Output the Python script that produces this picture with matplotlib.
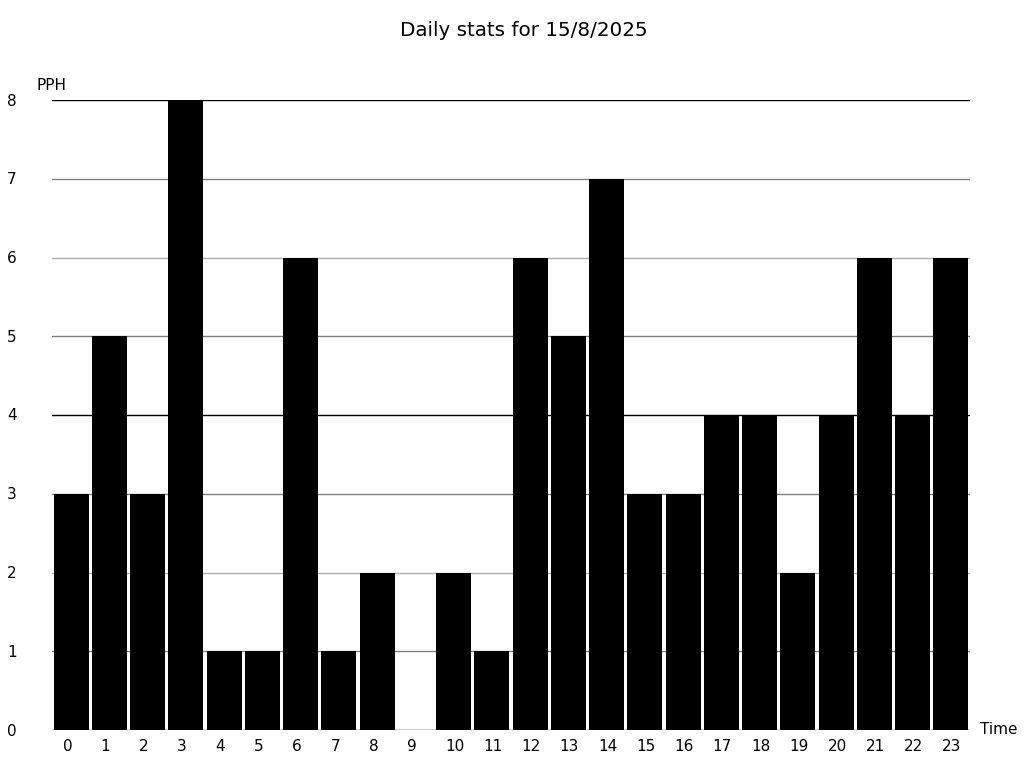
import matplotlib
matplotlib.use("Agg")
import matplotlib.pyplot as plt

hours = list(range(24))
hour_labels = [str(h) for h in hours]
pph = [3, 5, 3, 8, 1, 1, 6, 1, 2, 0, 2, 1, 6, 5, 7, 3, 3, 4, 4, 2, 4, 6, 4, 6]
y_ticks = [0, 1, 2, 3, 4, 5, 6, 7, 8]
grid_colors = ["#000000", "#808080", "#b0b0b0", "#808080", "#000000",
               "#808080", "#b0b0b0", "#808080", "#000000"]

W, H = 1024, 768
fig = plt.figure(figsize=(W / 100, H / 100), dpi=100)
L, R, B, T = 52, 970, 730, 100
ax = fig.add_axes([L / W, 1 - B / H, (R - L) / W, (B - T) / H])

for y, c in zip(y_ticks, grid_colors):
    ax.axhline(y, color=c, linewidth=1, zorder=1)

ax.bar(hours, pph, width=0.92, color="black", zorder=2)

ax.set_xlim(-0.5, 23.5)
ax.set_ylim(0, 8)
for s in ax.spines.values():
    s.set_visible(False)
ax.set_xticks([])
ax.set_yticks([])

for h, lab in zip(hours, hour_labels):
    ax.text(h - 0.225, -0.11, lab, ha="left", va="top", fontsize=11,
            transform=ax.transData)
for y in y_ticks:
    fig.text(7 / W, 1 - (B + 1 - (B - T) * y / 8) / H, str(y), ha="left",
             va="center", fontsize=11)

fig.text(37 / W, 1 - 85 / H, "PPH", ha="left", va="center", fontsize=11)
fig.text(980 / W, 1 - 730 / H, "Time", ha="left", va="center", fontsize=11)
fig.text(524 / W, 1 - 31 / H, "Daily stats for 15/8/2025", ha="center",
         va="center", fontsize=14.3)

fig.savefig("out.png", dpi=100)
